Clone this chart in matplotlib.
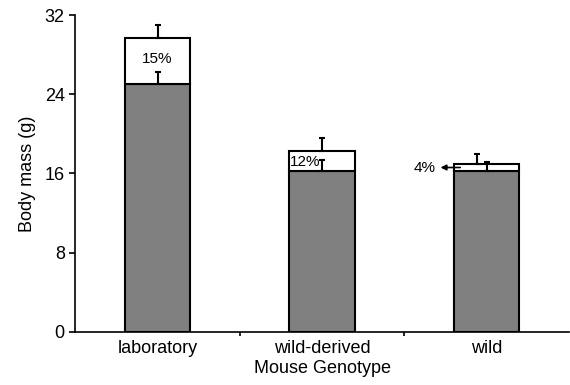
import numpy as np
import matplotlib
matplotlib.use('Agg')
import matplotlib.pyplot as plt

plt.rcParams['font.family'] = ['Liberation Sans', 'DejaVu Sans']

genotypes = ['laboratory', 'wild-derived', 'wild']
base_mass = [25.0, 16.2, 16.2]       # gray bars
total_mass = [29.7, 18.3, 17.0]      # top of white bars
base_err = [1.2, 1.2, 1.0]
total_err = [1.3, 1.3, 1.0]
pct_labels = ['15%', '12%', '4%']

x = np.arange(len(genotypes))
w = 0.4
gain = [t - b for t, b in zip(total_mass, base_mass)]

fig = plt.figure(figsize=(5.7, 3.85), dpi=100)
ax = fig.add_axes([0.132, 0.138, 0.866, 0.823])

ax.bar(x, base_mass, width=w, color='#808080', edgecolor='black', linewidth=1.5, zorder=2)
ax.bar(x, gain, bottom=base_mass, width=w, color='white', edgecolor='black', linewidth=1.5, zorder=2)

# error bars (upper only); wild's white-bar error is shifted left
err_x_total = [0, 1, 2 - 0.06]
err_x_base = [0, 1, 2]
ax.errorbar(err_x_total, total_mass, yerr=[np.zeros(3), total_err], fmt='none',
            ecolor='black', elinewidth=1.5, capsize=2, capthick=1.5, zorder=3)
ax.errorbar(err_x_base, base_mass, yerr=[np.zeros(3), base_err], fmt='none',
            ecolor='black', elinewidth=1.5, capsize=2, capthick=1.5, zorder=3)

ax.text(0, 27.6, pct_labels[0], ha='center', va='center', fontsize=11)
ax.text(1 - w / 2 + 0.005, 17.2, pct_labels[1], ha='left', va='center', fontsize=11)
ax.text(2 - 0.31, 16.6, pct_labels[2], ha='right', va='center', fontsize=11)
ax.annotate('', xy=(2 - 0.28, 16.6), xytext=(2 - 0.16, 16.6),
            arrowprops=dict(arrowstyle='-|>', color='black', lw=1.2, mutation_scale=8,
                            shrinkA=0, shrinkB=0), zorder=4)

ax.set_xlim(-0.5, 2.5)
ax.set_ylim(0, 32)
ax.set_yticks([0, 8, 16, 24, 32])
ax.set_xticks(x)
ax.set_xticklabels(genotypes, fontsize=13)
ax.set_xticks([0.5, 1.5], minor=True)
ax.tick_params(axis='x', which='major', length=0, pad=6)
ax.tick_params(axis='x', which='minor', length=3, width=1.2, direction='out')
ax.tick_params(axis='y', length=4, width=1.2, direction='out', labelsize=13)
for s in ['top', 'right']:
    ax.spines[s].set_visible(False)
for s in ['left', 'bottom']:
    ax.spines[s].set_linewidth(1.2)
ax.set_xlabel('Mouse Genotype', fontsize=13, labelpad=2)
ax.set_ylabel('Body mass (g)', fontsize=13, labelpad=6)

fig.savefig('out.png', dpi=100)
